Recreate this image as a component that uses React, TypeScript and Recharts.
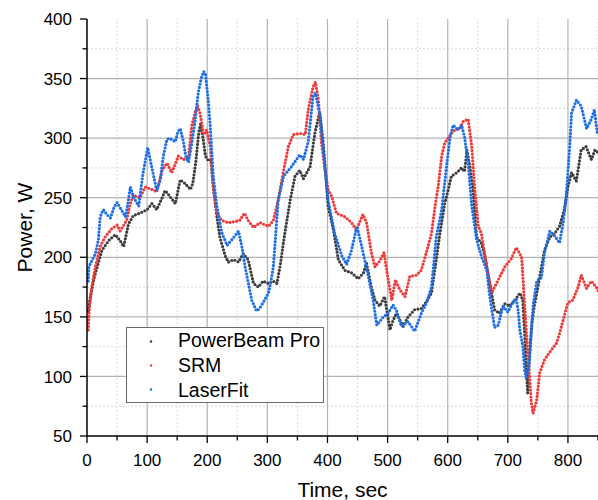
import React from 'react';
import { LineChart, Line, XAxis, YAxis, ReferenceLine, Label } from 'recharts';

const FONT = '"Liberation Sans", Arial, Helvetica, sans-serif';

// [time (sec), power (W)]
const powerBeamPro: number[][] = [
  [2,155],[5,165],[8,173],[12,183],[17,192],[25,206],[36,214],[47,219],[55,214],[61,209],[69,228],[77,235],[88,237],[100,240],[108,245],[116,240],[125,250],[130,256],[138,251],[147,245],[155,265],[163,262],[172,257],[176,262],[181,280],[186,305],[189,312],[193,300],[197,285],[202,281],[206,282],[210,259],[216,234],[221,217],[230,201],[235,196],[244,198],[252,196],[260,203],[268,198],[277,178],[285,175],[293,180],[302,178],[310,180],[316,178],[321,192],[329,220],[338,248],[346,268],[354,273],[360,266],[371,276],[379,304],[387,322],[393,296],[399,257],[401,243],[410,223],[418,198],[429,189],[440,187],[451,182],[460,187],[465,195],[473,175],[479,164],[487,159],[495,167],[504,139],[509,147],[515,153],[526,142],[534,150],[545,156],[556,157],[565,163],[573,170],[581,198],[587,220],[595,245],[602,259],[606,268],[615,271],[623,275],[628,272],[632,290],[637,276],[642,257],[648,217],[656,212],[662,201],[670,178],[678,156],[686,153],[695,161],[703,159],[712,164],[720,170],[725,164],[728,136],[731,103],[733,86],[737,125],[740,145],[744,159],[750,175],[756,192],[761,206],[770,217],[778,220],[786,226],[794,240],[800,259],[806,271],[814,264],[822,290],[830,293],[839,282],[845,290],[850,288]
];

const srm: number[][] = [
  [2,139],[3,150],[5,163],[8,175],[14,192],[22,209],[30,217],[41,224],[50,227],[55,222],[66,231],[72,245],[77,252],[88,250],[97,259],[108,257],[116,255],[125,273],[133,279],[141,271],[152,285],[160,282],[169,284],[174,310],[180,322],[184,327],[188,321],[194,303],[199,307],[205,293],[210,259],[216,237],[224,231],[235,229],[246,230],[254,231],[262,237],[268,231],[277,225],[288,229],[302,226],[310,231],[318,248],[327,273],[335,293],[343,303],[354,304],[363,303],[368,324],[376,343],[380,347],[385,332],[390,296],[396,273],[401,257],[407,251],[415,237],[429,234],[440,229],[448,223],[459,236],[465,229],[473,204],[479,192],[487,197],[494,204],[501,181],[507,164],[513,181],[520,173],[529,167],[537,184],[548,185],[556,189],[565,205],[573,220],[579,243],[584,259],[590,285],[595,296],[602,301],[609,306],[620,308],[626,314],[634,316],[640,293],[645,257],[651,226],[656,220],[665,192],[673,170],[684,181],[695,192],[706,199],[714,208],[720,203],[723,200],[725,184],[728,159],[731,136],[737,94],[739,78],[742,69],[748,80],[753,103],[761,114],[772,122],[781,128],[786,136],[795,153],[800,162],[808,164],[817,175],[822,185],[831,174],[839,180],[847,175],[850,172]
];

const laserFit: number[][] = [
  [2,180],[3,192],[8,197],[14,203],[19,215],[22,234],[27,240],[33,236],[39,233],[45,242],[50,246],[57,240],[64,234],[68,245],[72,259],[78,250],[86,243],[93,270],[101,292],[108,275],[116,256],[122,265],[127,285],[133,299],[137,300],[147,297],[151,305],[155,308],[160,298],[165,283],[169,280],[174,295],[180,315],[185,338],[190,350],[194,356],[197,354],[202,330],[205,310],[210,268],[216,243],[224,221],[233,210],[243,216],[252,222],[258,208],[263,192],[274,164],[282,155],[287,157],[293,162],[302,170],[306,180],[310,192],[318,248],[327,268],[340,276],[354,286],[360,282],[368,297],[376,335],[380,338],[388,318],[393,290],[397,269],[401,248],[412,220],[424,201],[432,194],[440,206],[449,226],[457,209],[468,184],[476,164],[482,143],[493,150],[501,153],[509,160],[515,155],[523,142],[534,146],[545,138],[557,154],[565,162],[573,175],[581,217],[590,240],[598,276],[604,301],[609,311],[617,307],[623,311],[628,301],[634,279],[640,243],[648,215],[656,201],[665,189],[670,167],[678,141],[684,143],[692,159],[700,154],[709,163],[714,165],[717,156],[720,139],[725,125],[728,105],[731,98],[736,114],[739,136],[742,159],[748,180],[756,183],[761,204],[770,222],[778,218],[786,212],[792,229],[797,251],[803,293],[806,321],[814,332],[822,327],[831,308],[839,316],[844,324],[849,303]
];

const seriesNames = ['PowerBeam Pro', 'SRM', 'LaserFit'];
const seriesColors = ['#3d3d3d', '#f03a3a', '#1f6fe5'];
const seriesData = [powerBeamPro, srm, laserFit];

const xTicks = [0, 50, 100, 150, 200, 250, 300, 350, 400, 450, 500, 550, 600, 650, 700, 750, 800, 850];
const yTicks = [50, 75, 100, 125, 150, 175, 200, 225, 250, 275, 300, 325, 350, 375, 400];
const xMajorGrid = [100, 200, 300, 400, 500, 600, 700, 800];
const xMinorGrid = [50, 150, 250, 350, 450, 550, 650, 750, 850];
const yMajorGrid = [100, 150, 200, 250, 300, 350];
const yMinorGrid = [75, 125, 175, 225, 275, 325, 375];

const XTick = (props: any) => {
  const { x, y, payload } = props;
  const major = payload.value % 100 === 0;
  return (
    <g>
      <line x1={x} x2={x} y1={y} y2={y + (major ? 7 : 4.5)} stroke="#000" strokeWidth={1.3} />
      {major && (
        <text x={x} y={y + 29.7} textAnchor="middle" fontSize={17} fontFamily={FONT} fill="#000">
          {payload.value}
        </text>
      )}
    </g>
  );
};

const YTick = (props: any) => {
  const { x, y, payload } = props;
  const major = payload.value % 50 === 0;
  return (
    <g>
      <line x1={x - (major ? 7 : 4.5)} x2={x} y1={y} y2={y} stroke="#000" strokeWidth={1.3} />
      {major && (
        <text x={x - 15} y={y + 6.1} textAnchor="end" fontSize={17} fontFamily={FONT} fill="#000">
          {payload.value}
        </text>
      )}
    </g>
  );
};

const LegendBox = () => (
  <svg width={198} height={76} style={{ display: 'block' }}>
    <rect x={0.5} y={0.5} width={197} height={75} fill="#fff" stroke="#6a6a6a" strokeWidth={1} />
    {seriesNames.map((n, i) => (
      <g key={n}>
        <circle cx={25} cy={14.5 + i * 24} r={1.2} fill={seriesColors[i]} />
        <text x={52} y={20.3 + i * 24.7} fontSize={19.5} fontFamily={FONT} fill="#000">
          {n}
        </text>
      </g>
    ))}
  </svg>
);

export default function App() {
  return (
    <div style={{ position: 'absolute', left: 0, top: 0, width: 598, height: 500, background: '#fff' }}>
      <LineChart width={598} height={500} margin={{ top: 19, right: 0, bottom: 0, left: 0 }}>
        <XAxis
          type="number"
          dataKey="t"
          domain={[0, 850]}
          ticks={xTicks}
          interval={0}
          allowDataOverflow
          height={64}
          tickSize={0}
          tickMargin={0}
          tick={<XTick />}
          axisLine={{ stroke: '#000', strokeWidth: 1.5 }}
          tickLine={false}
        >
          <Label
            content={(p: any) => {
              const vb = p.viewBox;
              return (
                <text x={vb.x + vb.width / 2} y={vb.y + 61} textAnchor="middle" fontSize={21} fontFamily={FONT} fill="#000">
                  Time, sec
                </text>
              );
            }}
          />
        </XAxis>
        <YAxis
          type="number"
          dataKey="v"
          domain={[50, 400]}
          ticks={yTicks}
          interval={0}
          allowDataOverflow
          width={87}
          tickSize={0}
          tickMargin={0}
          tick={<YTick />}
          axisLine={{ stroke: '#000', strokeWidth: 1.5 }}
          tickLine={false}
        >
          <Label
            content={(p: any) => {
              const vb = p.viewBox;
              const cy = vb.y + vb.height / 2;
              return (
                <text x={32} y={cy} transform={`rotate(-90, 32, ${cy})`} textAnchor="middle" fontSize={21} fontFamily={FONT} fill="#000">
                  Power, W
                </text>
              );
            }}
          />
        </YAxis>
        {xMinorGrid.map((v) => (
          <ReferenceLine key={'xm' + v} x={v} stroke="#d9d9d9" strokeDasharray="2 2" strokeWidth={1} />
        ))}
        {yMinorGrid.map((v) => (
          <ReferenceLine key={'ym' + v} y={v} stroke="#d9d9d9" strokeDasharray="2 2" strokeWidth={1} />
        ))}
        {xMajorGrid.map((v) => (
          <ReferenceLine key={'xM' + v} x={v} stroke="#b4b4b4" strokeWidth={1.2} />
        ))}
        {yMajorGrid.map((v) => (
          <ReferenceLine key={'yM' + v} y={v} stroke="#b4b4b4" strokeWidth={1.2} />
        ))}
        {seriesData.map((d, i) => (
          <Line
            key={seriesNames[i]}
            name={seriesNames[i]}
            data={d.map(([t, v]) => ({ t, v }))}
            dataKey="v"
            type="linear"
            stroke={seriesColors[i]}
            strokeWidth={3.2}
            strokeDasharray="0 3.4"
            strokeLinecap="round"
            dot={false}
            activeDot={false}
            isAnimationActive={false}
          />
        ))}
      </LineChart>
      <div style={{ position: 'absolute', left: 125.5, top: 327, width: 198, height: 76 }}>
        <LegendBox />
      </div>
    </div>
  );
}
